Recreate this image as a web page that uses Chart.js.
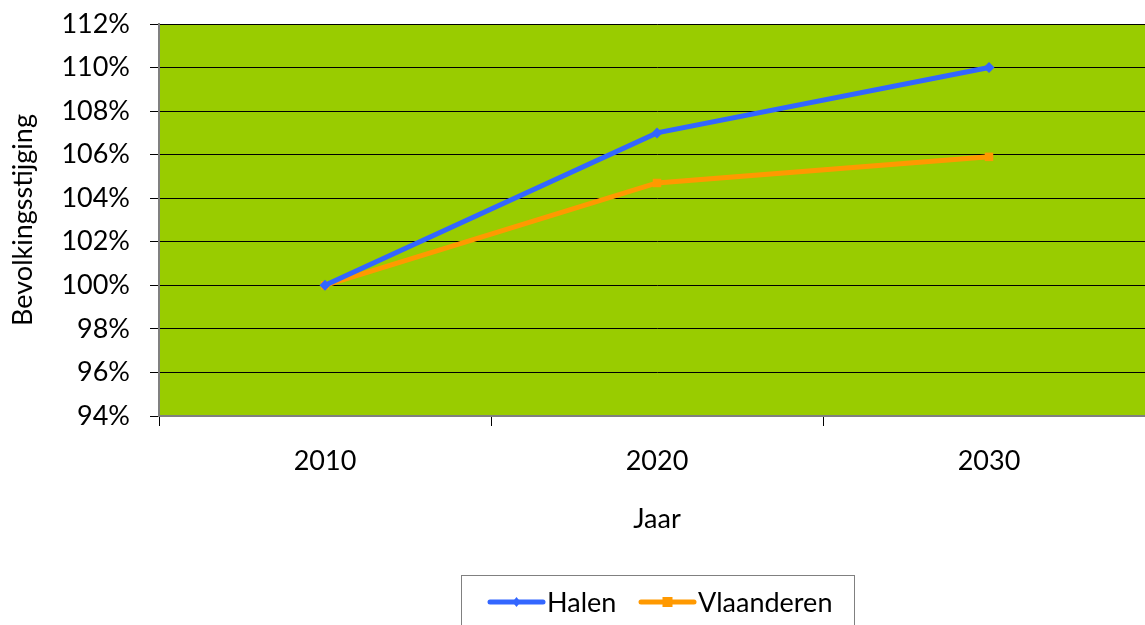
<!DOCTYPE html>
<html>
<head>
<meta charset="utf-8">
<script src="https://cdn.jsdelivr.net/npm/chart.js@4/dist/chart.umd.min.js"></script>
<style>
  html, body { margin: 0; padding: 0; overflow: hidden; background: #fff; }
  #wrap { width: 1161px; height: 640px; }
</style>
</head>
<body>
<div id="wrap"><canvas id="chart" width="1161" height="640"></canvas></div>
<script>
const years = ['2010', '2020', '2030'];
const halen = [100, 107, 110];
const vlaanderen = [100, 104.7, 105.9];
const yTicks = [94, 96, 98, 100, 102, 104, 106, 108, 110, 112];

const fontFamily = 'Lato, "Open Sans", sans-serif';
const fontSize = 27;
const blue = '#3366FF';
const orange = '#FF9900';

// green plot background
const plotBackground = {
    id: 'plotBackground',
    beforeDraw(chart) {
        const { ctx, chartArea } = chart;
        ctx.save();
        ctx.fillStyle = '#99CC00';
        ctx.fillRect(chartArea.left, chartArea.top, chartArea.right - chartArea.left, chartArea.bottom - chartArea.top);
        ctx.restore();
    },
};

// boxed legend with a line sample and marker, like the office chart
const boxedLegend = {
    id: 'boxedLegend',
    afterDraw(chart) {
        const { ctx } = chart;
        ctx.save();
        ctx.strokeStyle = '#808080';
        ctx.lineWidth = 1;
        ctx.strokeRect(461.5, 575.5, 393, 60);
        ctx.font = fontSize + 'px ' + fontFamily;
        ctx.textBaseline = 'middle';
        ctx.fillStyle = '#000';
        const y = 602;
        const starts = [490, 641];
        chart.data.datasets.forEach((ds, i) => {
            const x = starts[i];
            ctx.strokeStyle = ds.borderColor;
            ctx.lineWidth = 5;
            ctx.lineCap = 'round';
            ctx.beginPath();
            ctx.moveTo(x, y);
            ctx.lineTo(x + 53, y);
            ctx.stroke();
            ctx.fillStyle = ds.borderColor;
            const cx = x + 26.5;
            if (ds.pointStyle === 'rectRot') {
                ctx.beginPath();
                ctx.moveTo(cx, y - 5);
                ctx.lineTo(cx + 4, y);
                ctx.lineTo(cx, y + 5);
                ctx.lineTo(cx - 4, y);
                ctx.closePath();
                ctx.fill();
            } else {
                ctx.fillRect(cx - 5, y - 5, 10, 10);
            }
            ctx.fillStyle = '#000';
            ctx.fillText(ds.label, x + 57, y + 1);
        });
        ctx.restore();
    },
};

const ctx = document.querySelector('#chart').getContext('2d');
new Chart(ctx, {
    type: 'line',
    data: {
        labels: years,
        datasets: [{
            label: 'Halen',
            data: halen,
            borderColor: blue,
            backgroundColor: blue,
            borderWidth: 5,
            pointStyle: 'rectRot',
            pointRadius: 5.5,
            pointBorderWidth: 0,
            tension: 0,
        }, {
            label: 'Vlaanderen',
            data: vlaanderen,
            borderColor: orange,
            backgroundColor: orange,
            borderWidth: 5,
            pointStyle: 'rect',
            pointRadius: 6,
            pointBorderWidth: 0,
            tension: 0,
        }],
    },
    options: {
        responsive: false,
        animation: false,
        layout: {
            padding: { top: 24, right: 0, bottom: 0, left: 0 },
        },
        plugins: {
            legend: { display: false },
            tooltip: { enabled: false },
        },
        scales: {
            x: {
                offset: true,
                afterFit(scale) {
                    scale.height = 640 - 416;
                    scale.paddingLeft = 0;
                    scale.paddingRight = 0;
                },
                grid: {
                    offset: true,
                    drawOnChartArea: false,
                    tickLength: 10,
                    tickColor: '#000',
                },
                border: { color: '#808080', width: 2 },
                ticks: {
                    padding: 19,
                    color: '#000',
                    font: { family: fontFamily, size: fontSize },
                },
                title: {
                    display: true,
                    text: 'Jaar',
                    color: '#000',
                    font: { family: fontFamily, size: fontSize },
                    padding: { top: 0, bottom: 105 },
                },
            },
            y: {
                min: 94,
                max: 112,
                afterFit(scale) {
                    scale.width = 159;
                    scale.paddingTop = 0;
                    scale.paddingBottom = 0;
                },
                afterBuildTicks(scale) {
                    scale.ticks = yTicks.map((v) => ({ value: v }));
                },
                grid: {
                    color: '#000',
                    lineWidth: 1,
                    tickLength: 9,
                    tickColor: '#000',
                },
                border: { color: '#808080', width: 2 },
                ticks: {
                    padding: 20,
                    color: '#000',
                    font: { family: fontFamily, size: fontSize },
                    callback: (v) => v + '%',
                },
                title: {
                    display: true,
                    text: 'Bevolkingsstijging',
                    color: '#000',
                    font: { family: fontFamily, size: fontSize },
                    padding: { top: 7, bottom: 0 },
                },
            },
        },
    },
    plugins: [plotBackground, boxedLegend],
});
</script>
</body>
</html>
